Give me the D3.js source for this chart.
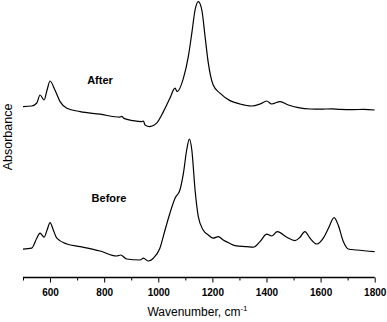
<!DOCTYPE html>
<html>
<head>
<meta charset="utf-8">
<script src="https://cdn.jsdelivr.net/npm/d3@7"></script>
<style>
  body { margin: 0; background: #fff; }
  svg { display: block; font-family: "Liberation Sans", Arial, sans-serif; }
</style>
</head>
<body>
<div id="chart"></div>
<script>
// IR spectra, wavenumber (cm-1) vs absorbance (arbitrary, offset traces)
const afterWave = [500, 532, 551, 563, 578, 589, 600, 618, 637, 662, 711, 785, 858, 865, 873, 907, 939, 945, 951, 969, 994, 1019, 1043, 1062, 1070, 1093, 1111, 1124, 1136, 1148, 1161, 1173, 1185, 1203, 1228, 1265, 1302, 1345, 1376, 1401, 1419, 1450, 1481, 1518, 1561, 1600, 1640, 1672, 1720, 1760, 1800];
const afterAbs  = [0.792, 0.795, 0.81, 0.85, 0.825, 0.875, 0.92, 0.875, 0.817, 0.784, 0.767, 0.754, 0.739, 0.743, 0.733, 0.722, 0.717, 0.72, 0.70, 0.692, 0.709, 0.767, 0.834, 0.884, 0.867, 0.934, 1.042, 1.159, 1.275, 1.317, 1.275, 1.142, 1.009, 0.90, 0.859, 0.822, 0.805, 0.795, 0.805, 0.82, 0.805, 0.817, 0.80, 0.787, 0.78, 0.779, 0.781, 0.778, 0.777, 0.778, 0.775];

const beforeWave = [500, 532, 551, 563, 578, 589, 600, 612, 625, 662, 711, 785, 846, 861, 883, 933, 945, 963, 982, 1006, 1025, 1043, 1062, 1080, 1093, 1105, 1115, 1124, 1136, 1148, 1166, 1185, 1203, 1222, 1240, 1263, 1284, 1327, 1351, 1376, 1401, 1419, 1440, 1475, 1505, 1524, 1542, 1561, 1586, 1610, 1629, 1650, 1665, 1684, 1702, 1733, 1800];
const beforeAbs  = [0.079, 0.084, 0.134, 0.159, 0.139, 0.175, 0.212, 0.175, 0.134, 0.105, 0.092, 0.07, 0.045, 0.05, 0.03, 0.025, 0.034, 0.02, 0.034, 0.084, 0.175, 0.259, 0.334, 0.375, 0.459, 0.575, 0.629, 0.575, 0.375, 0.242, 0.175, 0.15, 0.134, 0.142, 0.125, 0.109, 0.097, 0.092, 0.089, 0.117, 0.154, 0.145, 0.167, 0.139, 0.122, 0.139, 0.167, 0.134, 0.105, 0.134, 0.184, 0.237, 0.20, 0.117, 0.08, 0.075, 0.067];

const xTicks = [500, 600, 700, 800, 900, 1000, 1100, 1200, 1300, 1400, 1500, 1600, 1700, 1800];

const width = 387, height = 322;

const svg = d3.select("#chart")
  .append("svg")
  .attr("width", width)
  .attr("height", height);

const x = d3.scaleLinear().domain([500, 1800]).range([23, 374.7]);
const y = d3.scaleLinear().domain([0, 1.325]).range([265, 0]);

const axisY = 277.5;

// x axis: long ticks on labelled values, short ones in between
const xAxis = svg.append("g")
  .attr("transform", `translate(0,${axisY})`)
  .call(d3.axisBottom(x)
    .tickValues(xTicks)
    .tickSize(0)
    .tickPadding(0)
    .tickFormat(""));
xAxis.select(".domain")
  .attr("d", `M${x(500)},0H${x(1800)}`)
  .attr("stroke", "#000")
  .attr("stroke-width", 1.3);
xAxis.selectAll(".tick line")
  .attr("y2", (d) => (d % 200 === 0 ? 5 : 3))
  .attr("stroke", "#000");
xAxis.selectAll(".tick text")
  .attr("y", 18)
  .attr("dy", null)
  .style("font-size", "10px")
  .style("font-weight", "bold")
  .style("fill", "#000")
  .text((d) => (d % 200 === 0 ? d : ""));

const line = (wave, abs) => d3.line()
  .x((d, i) => x(wave[i]))
  .y((d, i) => y(abs[i]))
  .curve(d3.curveMonotoneX)(wave);

svg.append("path")
  .attr("d", line(afterWave, afterAbs))
  .attr("fill", "none")
  .attr("stroke", "#000")
  .attr("stroke-width", 1.2);

svg.append("path")
  .attr("d", line(beforeWave, beforeAbs))
  .attr("fill", "none")
  .attr("stroke", "#000")
  .attr("stroke-width", 1.2);

// trace labels
svg.append("text")
  .attr("x", 100).attr("y", 84)
  .attr("text-anchor", "middle")
  .style("font-size", "11px")
  .style("font-weight", "bold")
  .text("After");

svg.append("text")
  .attr("x", 109).attr("y", 202)
  .attr("text-anchor", "middle")
  .style("font-size", "11px")
  .style("font-weight", "bold")
  .text("Before");

// axis titles
const xTitle = svg.append("text")
  .attr("x", 197.5).attr("y", 316)
  .attr("text-anchor", "middle")
  .style("font-size", "12px");
xTitle.append("tspan").text("Wavenumber, cm");
xTitle.append("tspan")
  .attr("dy", -5)
  .style("font-size", "8px")
  .text("-1");

svg.append("text")
  .attr("transform", "translate(12,137) rotate(-90)")
  .attr("text-anchor", "middle")
  .style("font-size", "12.5px")
  .text("Absorbance");
</script>
</body>
</html>
